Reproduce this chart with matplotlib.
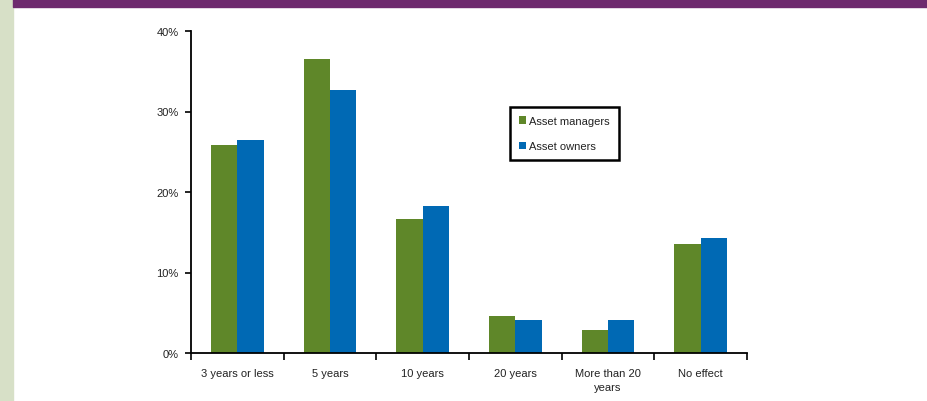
import matplotlib.pyplot as plt
import matplotlib.patches as mpatches
import numpy as np

categories = ["3 years or less", "5 years", "10 years", "20 years", "More than 20\nyears", "No effect"]
asset_managers = [25.8, 36.5, 16.7, 4.6, 2.9, 13.6]
asset_owners = [26.5, 32.7, 18.2, 4.1, 4.1, 14.3]
series_names = ["Asset managers", "Asset owners"]
colors = ["#5f8729", "#0069b4"]

plt.rcParams["font.family"] = ["Liberation Sans", "DejaVu Sans"]

fig = plt.figure(figsize=(9.28, 4.02), dpi=100)

# background bands
fig.patches.append(mpatches.Rectangle((0, 0), 13 / 928, 1, transform=fig.transFigure,
                                      color="#d7e0c7", zorder=0))
fig.patches.append(mpatches.Rectangle((13 / 928, 1 - 7.5 / 402), 1, 7.5 / 402,
                                      transform=fig.transFigure, color="#6e2a6e", zorder=0))

ax = fig.add_axes([191 / 928, 1 - 354 / 402, 556 / 928, 322 / 402])

x = np.arange(len(categories))
w = 0.285
ax.bar(x - w / 2, asset_managers, w, color=colors[0], label=series_names[0])
ax.bar(x + w / 2, asset_owners, w, color=colors[1], label=series_names[1])

ax.set_xlim(-0.5, len(categories) - 0.5)
ax.set_ylim(0, 40)
ax.set_yticks([0, 10, 20, 30, 40])
ax.set_yticklabels([f"{v}%" for v in [0, 10, 20, 30, 40]])
ax.set_xticks(np.arange(len(categories) + 1) - 0.5, minor=False)
ax.set_xticklabels([])
ax.set_xticks(x, minor=True)
ax.set_xticklabels(categories, minor=True, linespacing=1.55)
ax.tick_params(axis="x", which="minor", length=0, pad=10.5, labelsize=8, colors="#222222")
ax.tick_params(axis="x", which="major", length=5, width=1.2, direction="out")
ax.tick_params(axis="y", length=4, width=1.2, pad=5, labelsize=8, colors="#222222")
ax.tick_params(axis="both", which="both", color="black")

for s in ["top", "right"]:
    ax.spines[s].set_visible(False)
for s in ["left", "bottom"]:
    ax.spines[s].set_linewidth(1.3)
    ax.spines[s].set_color("black")

leg = fig.legend(loc="upper left", bbox_to_anchor=(510 / 928, 1 - 108 / 402),
                 fontsize=8, frameon=True, fancybox=False, edgecolor="black",
                 handlelength=0.65, handleheight=0.65, handletextpad=0.3,
                 labelspacing=1.4, borderpad=0.8, borderaxespad=0)
leg.get_frame().set_linewidth(1.8)
leg.get_frame().set_alpha(1)
for t in leg.get_texts():
    t.set_color("#222222")

plt.savefig("out.png", dpi=100)
